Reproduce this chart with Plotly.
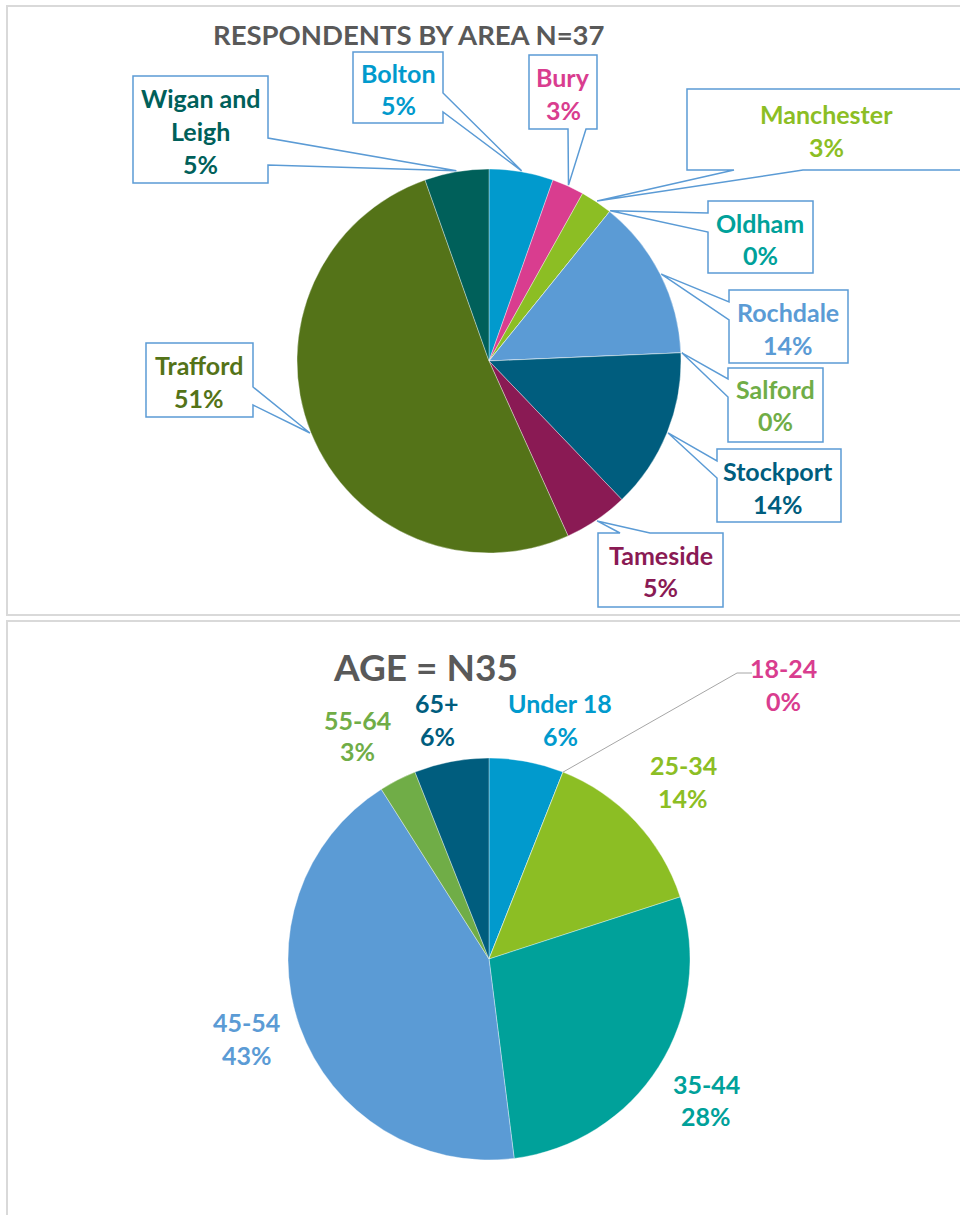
import math
import plotly.graph_objects as go

# ---------------- data ----------------
area_title = "RESPONDENTS BY AREA N=37"
area_labels = ["Bolton", "Bury", "Manchester", "Oldham", "Rochdale", "Salford",
               "Stockport", "Tameside", "Trafford", "Wigan and Leigh"]
area_counts = [2, 1, 1, 0, 5, 0, 5, 2, 19, 2]
area_colors = ["#019ACD", "#D93D8F", "#8CBE24", "#00A19A", "#5B9BD5", "#70AD47",
               "#005D7E", "#8A1A54", "#547318", "#00605A"]

age_title = "AGE = N35"
age_labels = ["Under 18", "18-24", "25-34", "35-44", "45-54", "55-64", "65+"]
age_pct = [6, 0, 14, 28, 43, 3, 6]
age_colors = ["#019ACD", "#D93D8F", "#8CBE24", "#00A19A", "#5B9BD5", "#70AD47", "#005D7E"]

# ---------------- layout helpers ----------------
W, H = 960, 1215
FONT = "Lato"
TITLE_COLOR = "#595959"
BOX_COLOR = "#5B9BD5"
LBL_SIZE = 25


def px(x):
    return x / W


def py(y):
    return 1 - y / H


def slice_point(values, idx, cx, cy, r, where="mid"):
    tot = float(sum(values))
    start = sum(values[:idx]) / tot
    frac = start + (values[idx] / tot / 2 if where == "mid" else 0)
    th = math.radians(360 * frac)
    return cx + r * math.sin(th), cy - r * math.cos(th)


TOP_C, TOP_R = (489, 361), 192
BOT_C, BOT_R = (489, 959), 201

fig = go.Figure()


def add_pie(values, labels, colors, c, r):
    fig.add_trace(go.Pie(
        values=values, labels=labels, sort=False, direction="clockwise", rotation=0,
        marker=dict(colors=colors, line=dict(color="rgba(255,255,255,0.6)", width=0.6)),
        textinfo="none", hoverinfo="label+percent", showlegend=False,
        domain=dict(x=[px(c[0] - r), px(c[0] + r)], y=[py(c[1] + r), py(c[1] - r)]),
    ))


add_pie(area_counts, area_labels, area_colors, TOP_C, TOP_R)
add_pie(age_pct, age_labels, age_colors, BOT_C, BOT_R)

shapes = []
annotations = []

# panel frames
for (x0, y0, x1, y1) in [(7, 6, 990, 615), (7, 621, 990, 1240)]:
    shapes.append(dict(type="rect", xref="paper", yref="paper",
                       x0=px(x0), x1=px(x1), y0=py(y1), y1=py(y0),
                       line=dict(color="#D9D9D9", width=2), layer="below"))


def text_line(x, y, s, color, size):
    annotations.append(dict(x=px(x), y=py(y), xref="paper", yref="paper",
                            text="<b>%s</b>" % s, showarrow=False,
                            xanchor="center", yanchor="middle",
                            font=dict(family=FONT, size=size, color=color)))


# titles
text_line(409, 34.5, area_title, TITLE_COLOR, 27.5)
text_line(425, 666.5, age_title, TITLE_COLOR, 37)

# ---- top chart callouts: box (x0,y0,x1,y1), wedge side, wedge base, text centre x, line mids
area_callouts = {
    "Bolton": ((353, 52, 443, 123), "right", (93, 112), 398, [73, 105]),
    "Bury": ((529, 55, 597, 129), "bottom", (568, 586), 563, [77, 110]),
    "Manchester": ((687, 89, 990, 170), "bottom", (734, 803), 826, [114.5, 147]),
    "Oldham": ((708, 201, 813, 273), "left", (213, 232), 760, [223, 255]),
    "Rochdale": ((729, 290, 848, 363), "left", (302, 320), 788, [311.5, 345]),
    "Salford": ((728, 368, 823, 442), "left", (379, 397), 775, [389, 421]),
    "Stockport": ((717, 449, 841, 522), "left", (461, 478), 778, [471, 504]),
    "Tameside": ((598, 533, 723, 607), "top", (620, 650), 660.5, [554.5, 587]),
    "Trafford": ((146, 343, 253, 417), "right", (387, 405), 199, [365, 398]),
    "Wigan and Leigh": ((133, 76, 268, 183), "right", (138, 165), 200.5, [97.5, 130.5, 163.5]),
}
label_lines = {"Wigan and Leigh": ["Wigan and", "Leigh"]}

tot_area = sum(area_counts)
for i, name in enumerate(area_labels):
    (x0, y0, x1, y1), side, (b1, b2), tx, mids = area_callouts[name]
    tip = slice_point(area_counts, i, TOP_C[0], TOP_C[1], TOP_R + 1)
    pts = [(x0, y0)]
    if side == "top":
        pts += [(b1, y0), tip, (b2, y0)]
    pts.append((x1, y0))
    if side == "right":
        pts += [(x1, b1), tip, (x1, b2)]
    pts.append((x1, y1))
    if side == "bottom":
        pts += [(b2, y1), tip, (b1, y1)]
    pts.append((x0, y1))
    if side == "left":
        pts += [(x0, b2), tip, (x0, b1)]
    path = "M " + " L ".join("%.5f,%.5f" % (px(a), py(b)) for a, b in pts) + " Z"
    shapes.append(dict(type="path", xref="paper", yref="paper", path=path,
                       fillcolor="white", line=dict(color=BOX_COLOR, width=1.5)))
    lines = label_lines.get(name, [name]) + ["%d%%" % round(100 * area_counts[i] / tot_area)]
    for s, y in zip(lines, mids):
        text_line(tx, y, s, area_colors[i], LBL_SIZE)

# ---- bottom chart labels: text centre x, line mids
age_pos = {
    "Under 18": (560, [702.5, 735.5]),
    "18-24": (783, [667.5, 700.5]),
    "25-34": (683, [765, 798]),
    "35-44": (706, [1084, 1116]),
    "45-54": (247, [1022, 1055]),
    "55-64": (357.5, [719.5, 751.5]),
    "65+": (437, [702.5, 735.5]),
}
for i, name in enumerate(age_labels):
    tx, mids = age_pos[name]
    for s, y in zip([name, "%d%%" % age_pct[i]], mids):
        text_line(tx, y, s, age_colors[i], LBL_SIZE)

# leader line for the zero slice 18-24
i0 = age_labels.index("18-24")
tip = slice_point(age_pct, i0, BOT_C[0], BOT_C[1], BOT_R, where="start")
shapes.append(dict(type="path", xref="paper", yref="paper",
                   path="M %.5f,%.5f L %.5f,%.5f L %.5f,%.5f" % (
                       px(tip[0]), py(tip[1]), px(737), py(673), px(752), py(673)),
                   line=dict(color="#A6A6A6", width=1)))

fig.update_layout(
    width=W, height=H, margin=dict(l=0, r=0, t=0, b=0),
    paper_bgcolor="white", plot_bgcolor="white",
    shapes=shapes, annotations=annotations,
)

fig.write_html("out.html", config={"displayModeBar": False},
               post_script="document.body.style.margin='0';document.body.style.overflow='hidden';")
